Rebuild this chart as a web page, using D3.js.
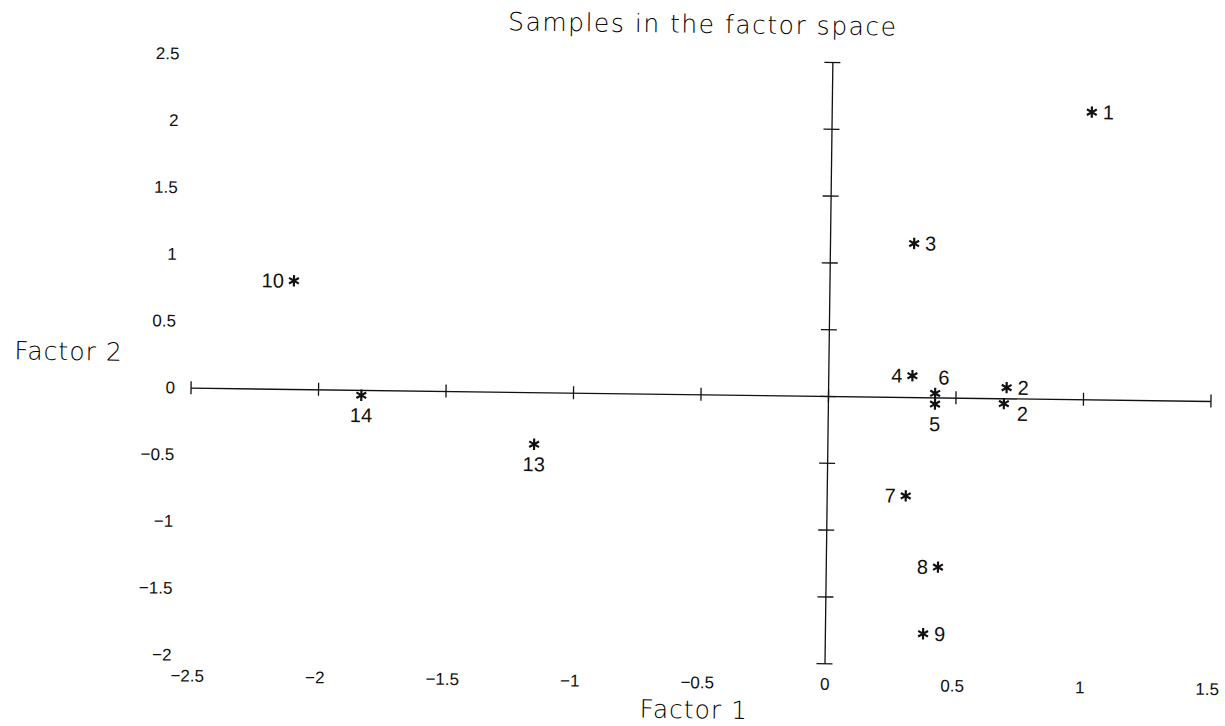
<!DOCTYPE html>
<html>
<head>
<meta charset="utf-8">
<script src="https://cdn.jsdelivr.net/npm/d3@7"></script>
<style>
  html, body { margin: 0; padding: 0; background: #fff; }
  svg { display: block; }
</style>
</head>
<body>
<svg id="chart" width="1225" height="726"></svg>
<script>
// ---- data ----
const sampleLabels = ["1", "3", "10", "14", "13", "4", "6", "5", "2", "2", "7", "8", "9"];
const factor1 = [1.02, 0.33, -2.10, -1.83, -1.15, 0.33, 0.42, 0.42, 0.70, 0.69, 0.31, 0.44, 0.385];
const factor2 = [2.15, 1.15, 0.81, -0.04, -0.39, 0.16, 0.03, -0.05, 0.08, -0.04, -0.74, -1.27, -1.77];
const labelSide = ["right", "right", "left", "below", "below", "left", "aboveRight", "below", "right", "rightLow", "left", "left", "right"];
const xTicks = [-2.5, -2, -1.5, -1, -0.5, 0, 0.5, 1, 1.5];
const yTicks = [-2, -1.5, -1, -0.5, 0, 0.5, 1, 1.5, 2, 2.5];
const titleText = "Samples in the factor space";
const xTitle = "Factor 1";
const yTitle = "Factor 2";

// ---- layout ----
const svg = d3.select("#chart");
const ox = 828, oy = 396;
const x = d3.scaleLinear().domain([-2.5, 1.5]).range([ox - 2.5 * 255, ox + 1.5 * 255]);
const y = d3.scaleLinear().domain([-2, 2.5]).range([oy + 2 * 133.6, oy - 2.5 * 133.6]);

const g = svg.append("g").attr("transform", `rotate(0.75, ${ox}, ${oy})`);
const ink = "#111";
const sansLight = "'DejaVu Sans', sans-serif";
const helv = "'Liberation Sans', Arial, sans-serif";

// title
g.append("text")
  .attr("x", 698).attr("y", 34.5)
  .attr("text-anchor", "middle")
  .attr("font-family", sansLight).attr("font-weight", 200)
  .attr("font-size", 25).attr("letter-spacing", 1.5)
  .attr("fill", "#000")
  .text(titleText);

// axis titles
g.append("text")
  .attr("x", 698).attr("y", 720)
  .attr("text-anchor", "middle")
  .attr("font-family", sansLight).attr("font-weight", 200)
  .attr("font-size", 25).attr("letter-spacing", 1)
  .attr("fill", "#000")
  .text(xTitle);

g.append("text")
  .attr("x", 68).attr("y", 370)
  .attr("text-anchor", "middle")
  .attr("font-family", sansLight).attr("font-weight", 200)
  .attr("font-size", 25).attr("letter-spacing", 1)
  .attr("fill", "#000")
  .text(yTitle);

// tick labels (left column and bottom row)
const fmt = d => d3.format("")(d).replace("-", "\u2212");
const leftAxis = g.append("g")
  .attr("transform", "translate(175,0)")
  .call(d3.axisLeft(y).tickValues(yTicks).tickSize(0).tickPadding(0).tickFormat(fmt));
const bottomAxis = g.append("g")
  .attr("transform", "translate(0,684)")
  .call(d3.axisBottom(x).tickValues(xTicks).tickSize(0).tickPadding(0).tickFormat(fmt));
[leftAxis, bottomAxis].forEach(a => {
  a.select(".domain").remove();
  a.selectAll("text")
    .attr("font-family", helv).attr("font-size", 17).attr("fill", ink);
});
bottomAxis.selectAll("text").attr("dy", "0.35em");

// central axes through origin
const hAxis = g.append("g").attr("transform", `translate(0,${y(0)})`)
  .call(d3.axisBottom(x).tickValues(xTicks).tickSize(0).tickFormat(""));
hAxis.select(".domain").attr("stroke", ink).attr("stroke-width", 1.3);
hAxis.selectAll(".tick line").attr("y1", -6.5).attr("y2", 6.5).attr("stroke", ink).attr("stroke-width", 1.3);

const vAxis = g.append("g").attr("transform", `translate(${x(0)},0)`)
  .call(d3.axisLeft(y).tickValues(yTicks).tickSize(0).tickFormat(""));
vAxis.select(".domain").attr("stroke", ink).attr("stroke-width", 1.3);
vAxis.selectAll(".tick line").attr("x1", -8).attr("x2", 8).attr("stroke", ink).attr("stroke-width", 1.3);

// points
const pts = sampleLabels.map((lab, i) => ({ lab, fx: factor1[i], fy: factor2[i], side: labelSide[i] }));
const star = d3.symbol().type(d3.symbolAsterisk).size(90);
g.append("g").selectAll("path").data(pts).join("path")
  .attr("transform", d => `translate(${x(d.fx)},${y(d.fy)})`)
  .attr("d", star)
  .attr("fill", "none").attr("stroke", ink).attr("stroke-width", 2.2);

const place = {
  right:      { dx: 11, dy: 7,  anchor: "start" },
  rightLow:   { dx: 13, dy: 17, anchor: "start" },
  left:       { dx: -10, dy: 7, anchor: "end" },
  below:      { dx: 0, dy: 27,  anchor: "middle" },
  aboveRight: { dx: 3, dy: -9,  anchor: "start" }
};
g.append("g").selectAll("text").data(pts).join("text")
  .attr("x", d => x(d.fx) + place[d.side].dx)
  .attr("y", d => y(d.fy) + place[d.side].dy)
  .attr("text-anchor", d => place[d.side].anchor)
  .attr("font-family", helv).attr("font-size", 20).attr("fill", ink)
  .text(d => d.lab);
</script>
</body>
</html>
